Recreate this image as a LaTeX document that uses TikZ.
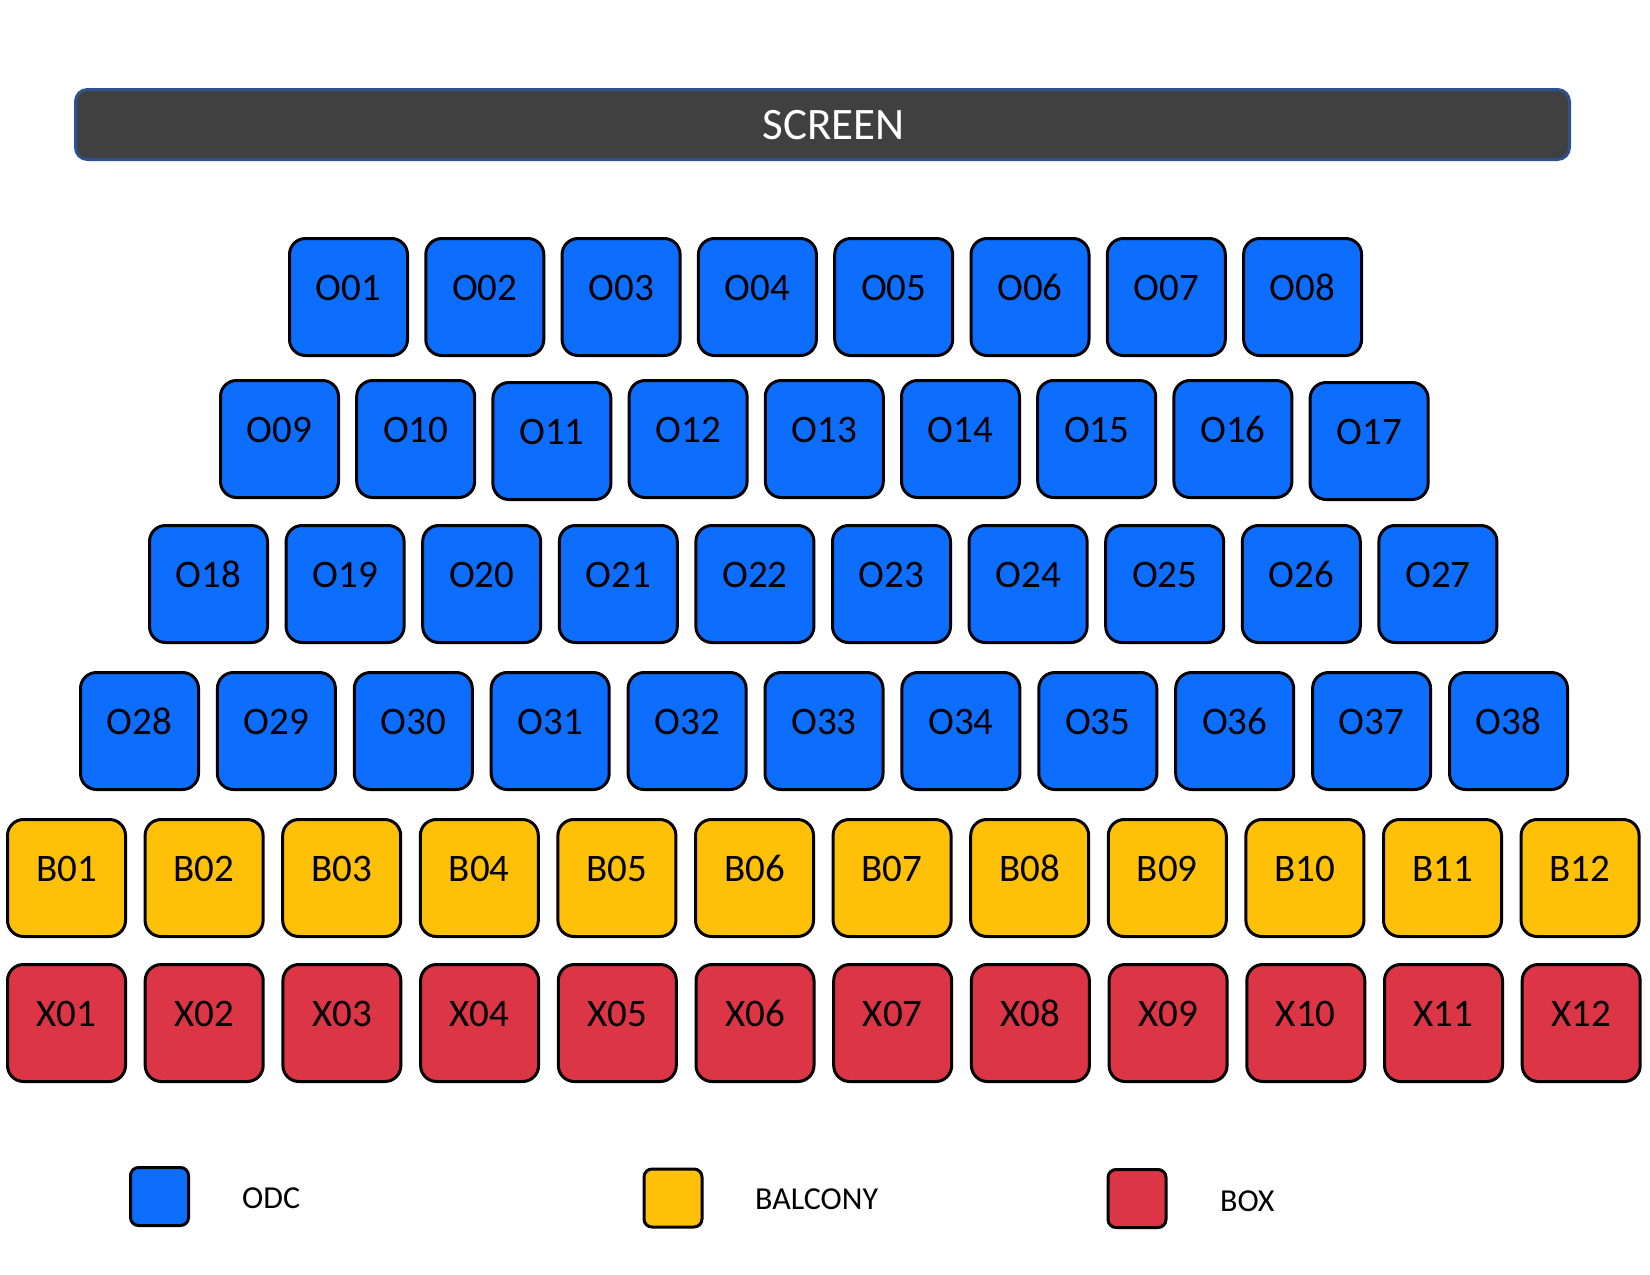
\documentclass[tikz,border=0pt]{standalone}
\usepackage{fontspec}
\setmainfont{Carlito}
\definecolor{seatblue}{HTML}{0D6EFD}
\definecolor{seatyellow}{HTML}{FFC107}
\definecolor{seatred}{HTML}{DC3545}
\definecolor{screenfill}{HTML}{404040}
\definecolor{screenborder}{HTML}{2F528F}
\begin{document}
\begin{tikzpicture}[x=1pt,y=-1pt,
  seat/.style={draw=black, line width=3pt, rounded corners=16pt,
    minimum width=118pt, minimum height=117pt, inner sep=0pt,
    font=\fontsize{39}{39}\selectfont, text height=25pt, text depth=18pt},
  legendbox/.style={draw=black, line width=3pt, rounded corners=8pt,
    minimum width=58pt, minimum height=58pt, inner sep=0pt},
  legendtext/.style={anchor=base west, inner sep=0pt, font=\fontsize{32}{32}\selectfont},
  screenbar/.style={fill=screenfill, draw=screenborder, line width=3pt, rounded corners=12pt,
    minimum width=1494pt, minimum height=70pt, inner sep=0pt, text=white,
    font=\fontsize{45}{45}\selectfont, text height=29pt, text depth=0pt}]
\useasboundingbox (0,0) rectangle (1650,1275);
\fill[white] (0,0) rectangle (1650,1275);
\node[screenbar] (screen) at (822.5,124.5) {\hspace{22pt}SCREEN};
% row 1
\foreach \i in {1,...,8} {
  \pgfmathsetmacro\cx{288+60.5+(\i-1)*136.3}
  \edef\lab{O\ifnum\i<10 0\fi\i}
  \node[seat, fill=seatblue] (\lab) at (\cx,297) {\lab};
}
% row 2
\foreach \i/\dy in {9/0,10/0,11/2,12/0,13/0,14/0,15/0,16/0,17/2} {
  \pgfmathsetmacro\cx{219+60.5+(\i-9)*136.2}
  \edef\lab{O\ifnum\i<10 0\fi\i}
  \node[seat, fill=seatblue] (\lab) at (\cx,439+\dy) {\lab};
}
% row 3
\foreach \i in {18,...,27} {
  \pgfmathsetmacro\cx{148+60.5+(\i-18)*136.6}
  \edef\lab{O\i}
  \node[seat, fill=seatblue] (\lab) at (\cx,584) {\lab};
}
% row 4
\foreach \i in {28,...,38} {
  \pgfmathsetmacro\cx{79+60.5+(\i-28)*136.9}
  \edef\lab{O\i}
  \node[seat, fill=seatblue] (\lab) at (\cx,731) {\lab};
}
% balcony
\foreach \i in {1,...,12} {
  \pgfmathsetmacro\cx{6+60.5+(\i-1)*137.6}
  \edef\lab{B\ifnum\i<10 0\fi\i}
  \node[seat, fill=seatyellow] (\lab) at (\cx,878) {\lab};
}
% box
\foreach \i in {1,...,12} {
  \pgfmathsetmacro\cx{6+60.5+(\i-1)*137.7}
  \edef\lab{X\ifnum\i<10 0\fi\i}
  \node[seat, fill=seatred] (\lab) at (\cx,1023) {\lab};
}
% legend
\node[legendbox, fill=seatblue] (lodc) at (159.5,1196.5) {};
\node[legendtext] (todc) at (242,1208) {ODC};
\node[legendbox, fill=seatyellow] (lbal) at (673,1198) {};
\node[legendtext] (tbal) at (755,1209) {BALCONY};
\node[legendbox, fill=seatred] (lbox) at (1137,1198.5) {};
\node[legendtext] (tbox) at (1220,1211) {BOX};
\end{tikzpicture}
\end{document}
